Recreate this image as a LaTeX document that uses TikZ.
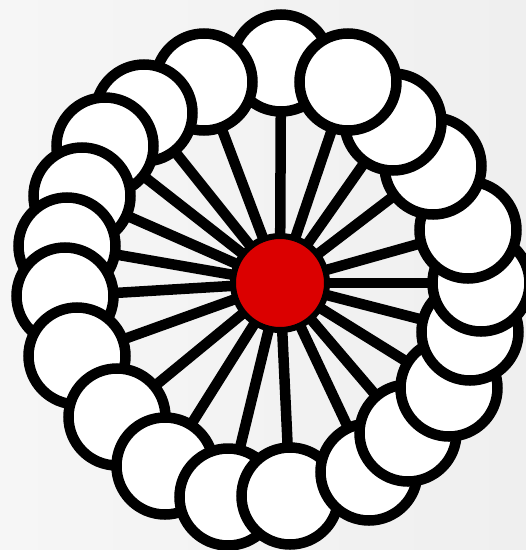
\documentclass[tikz,border=0pt]{standalone}
\begin{document}
\begin{tikzpicture}[x=1pt,y=-1pt,
  outer/.style={circle,draw=black,fill=white,line width=10.5pt,minimum size=97pt,inner sep=0pt},
  hub/.style={circle,draw=black,fill=hubred,line width=6pt,minimum size=94pt,inner sep=0pt},
  spoke/.style={draw=black,line width=10.5pt}]
\definecolor{hubred}{RGB}{219,0,0}
\definecolor{bgl}{RGB}{246,246,246}
\definecolor{bgr}{RGB}{239,239,239}
\useasboundingbox (0,0) rectangle (526,550);
\clip (0,0) rectangle (526,550);
\shade[left color=bgl,right color=bgr] (0,0) rectangle (526,550);
% centres
\coordinate (c) at (280,283);
\coordinate (cA) at (281,63);
\coordinate (cB) at (348,82);
\coordinate (cC) at (393,122);
\coordinate (cD) at (433,166);
\coordinate (cE) at (468,230);
\coordinate (cF) at (481,283);
\coordinate (cG) at (470,332);
\coordinate (cH) at (449,388);
\coordinate (cI) at (408,433);
\coordinate (cJ) at (369,472);
\coordinate (cK) at (290,496);
\coordinate (cL) at (228,497);
\coordinate (cM) at (165,466);
\coordinate (cN) at (117,417);
\coordinate (cO) at (77,356);
\coordinate (cP) at (65,296);
\coordinate (cQ) at (67,246);
\coordinate (cR) at (82,196);
\coordinate (cS) at (105,146);
\coordinate (cT) at (144,113);
\coordinate (cU) at (204,82);
% spokes
\foreach \n in {A,B,C,D,E,F,G,H,I,J,K,L,M,N,O,P,Q,R,S,T,U}
  \draw[spoke] (c) -- (c\n);
% outer circles, each drawn over the previous one
\foreach \n in {A,U,T,S,R,Q,P,O,N,M,L,K,J,I,H,G,F,E,D,C,B}
  \node[outer] (\n) at (c\n) {};
% hub
\node[hub] (hub) at (c) {};
\end{tikzpicture}
\end{document}
